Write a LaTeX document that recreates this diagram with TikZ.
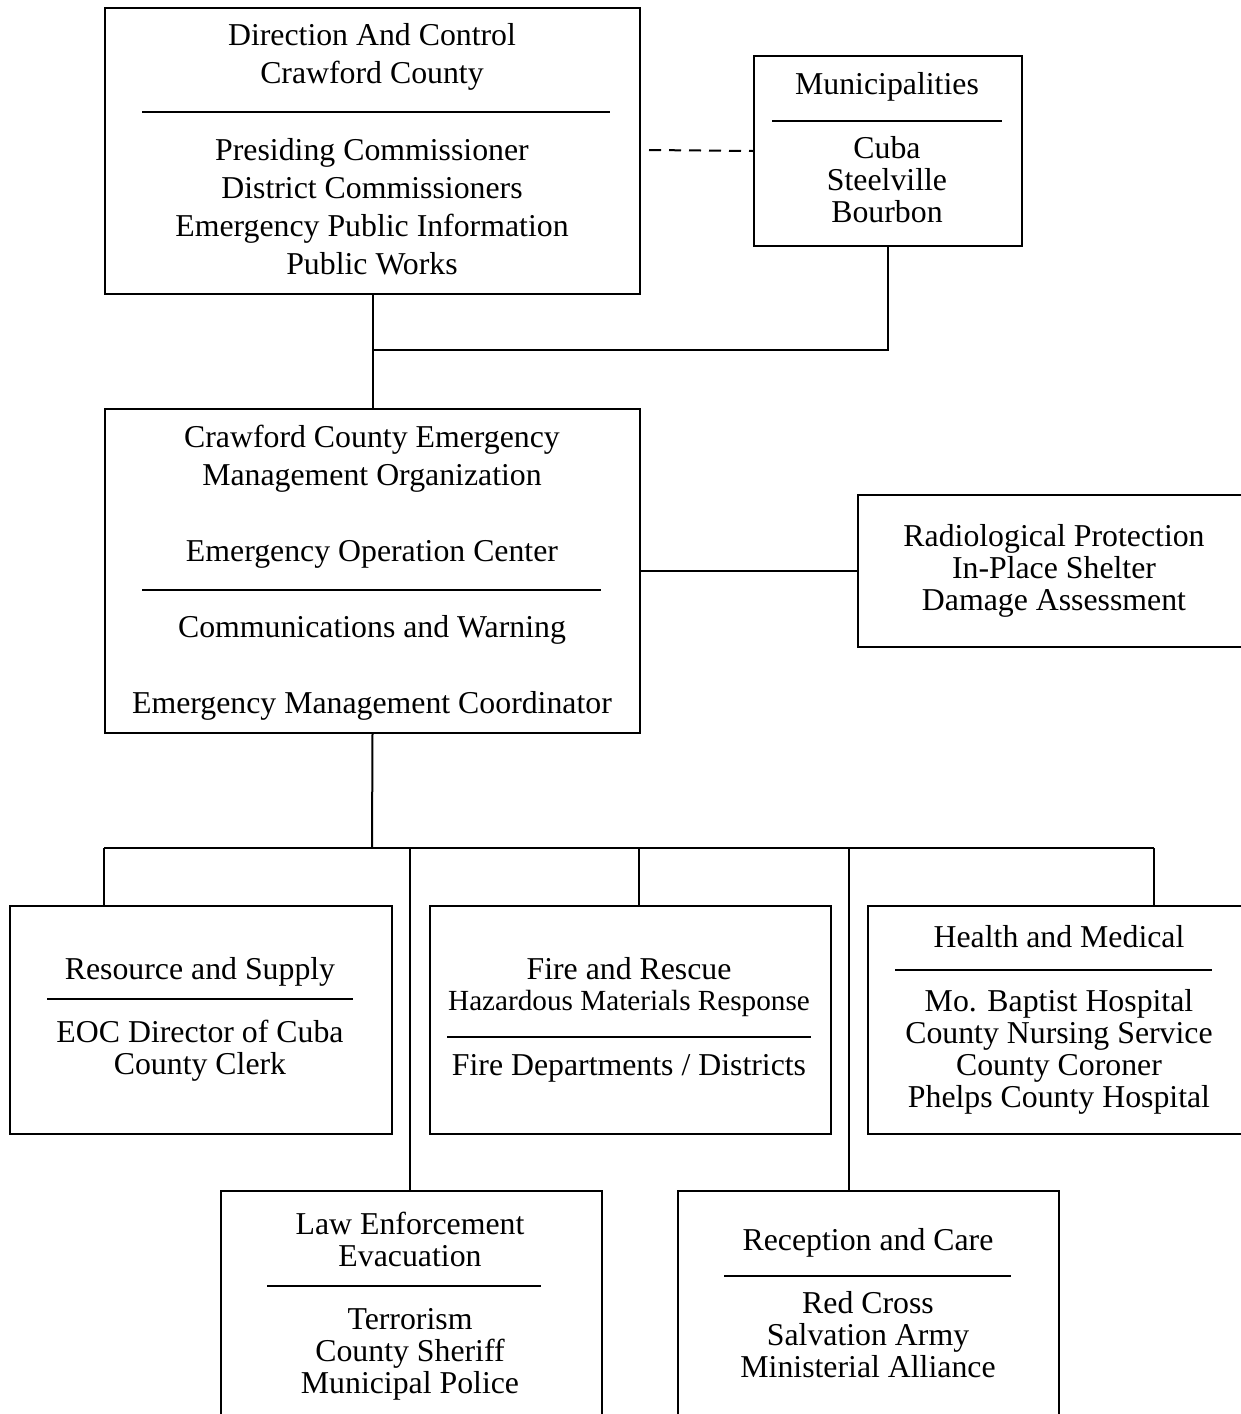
\documentclass[tikz,border=0pt]{standalone}
\usepackage{fontspec}
\setmainfont{Liberation Serif}
\begin{document}
\begin{tikzpicture}[x=0.5pt,y=-0.5pt,
  box/.style={draw,line width=1pt,rectangle,inner sep=0pt,anchor=north west},
  ln/.style={anchor=base,inner sep=0pt,yshift=-5.3pt,font=\fontsize{15.9}{18}\selectfont},
  sm/.style={anchor=base,inner sep=0pt,yshift=-4.8pt,font=\fontsize{14.6}{16}\selectfont},
  rule/.style={line width=1pt},
  conn/.style={line width=1pt}]
\useasboundingbox (0,0) rectangle (1241,1414);
\clip (0,0) rectangle (1241,1414);

% boxes
\node[box,minimum width=267.5pt,minimum height=143pt] (dac) at (104,7) {};
\node[box,minimum width=134pt,minimum height=95pt] (muni) at (753,55) {};
\node[box,minimum width=267.5pt,minimum height=162pt] (emo) at (104,408) {};
\node[box,minimum width=201.5pt,minimum height=76pt] (rad) at (857,494) {};
\node[box,minimum width=191pt,minimum height=114pt] (res) at (9,905) {};
\node[box,minimum width=200.5pt,minimum height=114pt] (fire) at (429,905) {};
\node[box,minimum width=196.5pt,minimum height=114pt] (health) at (867,905) {};
\node[box,minimum width=190.5pt,minimum height=120pt] (law) at (220,1190) {};
\node[box,minimum width=190.5pt,minimum height=120pt] (rec) at (677,1190) {};

% Direction and Control
\node[ln] (dac1) at (372,35) {Direction And Control};
\node[ln] (dac2) at (372,73) {Crawford County};
\draw[rule] (142,112) -- (610,112);
\node[ln] (dac3) at (372,150) {Presiding Commissioner};
\node[ln] (dac4) at (372,188) {District Commissioners};
\node[ln] (dac5) at (372,226) {Emergency Public Information};
\node[ln] (dac6) at (372,264) {Public Works};

% Municipalities
\node[ln] (mu1) at (887,84) {Municipalities};
\draw[rule] (772,121) -- (1002,121);
\node[ln] (mu2) at (887,148) {Cuba};
\node[ln] (mu3) at (887,180) {Steelville};
\node[ln] (mu4) at (887,212) {Bourbon};

% Emergency Management Organization
\node[ln] (em1) at (372,437) {Crawford County Emergency};
\node[ln] (em2) at (372,475) {Management Organization};
\node[ln] (em3) at (372,551) {Emergency Operation Center};
\draw[rule] (142,590) -- (601,590);
\node[ln] (em4) at (372,627) {Communications and Warning};
\node[ln] (em5) at (372,703) {Emergency Management Coordinator};

% Radiological
\node[ln] (ra1) at (1054,536) {Radiological Protection};
\node[ln] (ra2) at (1054,568) {In-Place Shelter};
\node[ln] (ra3) at (1054,600) {Damage Assessment};

% Resource and Supply
\node[ln] (rs1) at (200,969) {Resource and Supply};
\draw[rule] (47,999) -- (353,999);
\node[ln] (rs2) at (200,1032) {EOC Director of Cuba};
\node[ln] (rs3) at (200,1064) {County Clerk};

% Fire and Rescue
\node[ln] (fr1) at (629,969) {Fire and Rescue};
\node[sm] (fr2) at (629,1001) {Hazardous Materials Response};
\draw[rule] (447,1037) -- (811,1037);
\node[ln] (fr3) at (629,1065) {Fire Departments / Districts};

% Health and Medical
\node[ln] (hm1) at (1059,937) {Health and Medical};
\draw[rule] (895,970) -- (1212,970);
\node[ln] (hm2) at (1059,1001) {Mo. Baptist Hospital};
\node[ln] (hm3) at (1059,1033) {County Nursing Service};
\node[ln] (hm4) at (1059,1065) {County Coroner};
\node[ln] (hm5) at (1059,1097) {Phelps County Hospital};

% Law Enforcement
\node[ln] (le1) at (410,1224) {Law Enforcement};
\node[ln] (le2) at (410,1256) {Evacuation};
\draw[rule] (267,1286) -- (541,1286);
\node[ln] (le3) at (410,1319) {Terrorism};
\node[ln] (le4) at (410,1351) {County Sheriff};
\node[ln] (le5) at (410,1383) {Municipal Police};

% Reception and Care
\node[ln] (rc1) at (868,1240) {Reception and Care};
\draw[rule] (724,1276) -- (1011,1276);
\node[ln] (rc2) at (868,1303) {Red Cross};
\node[ln] (rc3) at (868,1335) {Salvation Army};
\node[ln] (rc4) at (868,1367) {Ministerial Alliance};

% connectors
\coordinate (join) at (372,350);
\coordinate (dstart) at (649,150);
\coordinate (bus) at (372,848);
\coordinate (b1) at (104,848);
\coordinate (b2) at (410,848);
\coordinate (b3) at (639,848);
\coordinate (b4) at (849,848);
\coordinate (b5) at (1154,848);

\draw[conn] (dac.south) -- (emo.north);
\draw[conn] (muni.south) |- (join);
\draw[conn,dash pattern=on 6pt off 4pt] (dstart) -- (muni.west);
\draw[conn] (emo.east) -- (rad.west);
\draw[conn] (emo.south) -- (bus);
\draw[conn] (b1) -- (b5);
\draw[conn] (b1) -- (b1 |- res.north);
\draw[conn] (b2) -- (b2 |- law.north);
\draw[conn] (b3) -- (b3 |- fire.north);
\draw[conn] (b4) -- (b4 |- rec.north);
\draw[conn] (b5) -- (b5 |- health.north);
\end{tikzpicture}
\end{document}
